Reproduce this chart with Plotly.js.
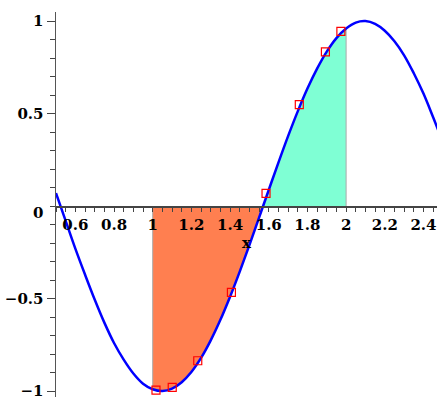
<!DOCTYPE html>
<html>
<head>
<meta charset="utf-8">
<script src="https://cdn.plot.ly/plotly-3.0.1.min.js"></script>
<style>
  html, body { margin: 0; padding: 0; background: #fff; }
  #plot { width: 437px; height: 399px; }
</style>
</head>
<body>
<div id="plot"></div>
<script>
// curve
const curveX = [0.5, 0.55, 0.6, 0.65, 0.7, 0.75, 0.8, 0.85, 0.9, 0.95,
  1.0, 1.05, 1.1, 1.15, 1.2, 1.25, 1.3, 1.35, 1.4, 1.45,
  1.5, 1.55, 1.6, 1.65, 1.7, 1.75, 1.8, 1.85, 1.9, 1.95,
  2.0, 2.05, 2.1, 2.15, 2.2, 2.25, 2.3, 2.35, 2.4, 2.45, 2.5];
const curveY = [0.07, -0.08, -0.23, -0.37, -0.505, -0.63, -0.74, -0.83, -0.905, -0.96,
  -0.99, -1.0, -0.987, -0.952, -0.897, -0.821, -0.726, -0.615, -0.49, -0.354,
  -0.211, -0.062, 0.087, 0.235, 0.378, 0.512, 0.635, 0.743, 0.835, 0.908,
  0.96, 0.992, 1.0, 0.985, 0.948, 0.891, 0.815, 0.718, 0.608, 0.48, 0.347];

// red sample squares
const sampleX = [1.017, 1.101, 1.233, 1.407, 1.586, 1.758, 1.893, 1.973];
const sampleY = [-0.995, -0.98, -0.836, -0.466, 0.069, 0.548, 0.834, 0.944];

// shaded regions: [1, zero crossing] and [zero crossing, 2]
const regionEdges = [1, 1.571, 2];
const regionColors = ['#FF7F50', '#7FFFD4'];

const xTicks = [0.6, 0.8, 1, 1.2, 1.4, 1.6, 1.8, 2, 2.2, 2.4];
const xTickText = ['0.6', '0.8', '1', '1.2', '1.4', '1.6', '1.8', '2', '2.2', '2.4'];
const yTicks = [-1, -0.5, 0.5, 1];
const yTickText = ['\u22121', '\u22120.5', '0.5', '1'];

const xRange = [0.5, 2.47];
const yRange = [-1.032, 1.049];

function regionPolygon(x0, x1) {
  const xs = [x0], ys = [0];
  for (let i = 0; i < curveX.length; i++) {
    if (curveX[i] >= x0 - 1e-9 && curveX[i] <= x1 + 1e-9) {
      xs.push(curveX[i]);
      ys.push(curveY[i]);
    }
  }
  xs.push(x1); ys.push(0);
  return { xs: xs, ys: ys };
}

const traces = [];
for (let k = 0; k < regionEdges.length - 1; k++) {
  const p = regionPolygon(regionEdges[k], regionEdges[k + 1]);
  traces.push({
    x: p.xs, y: p.ys,
    type: 'scatter', mode: 'lines',
    fill: 'toself', fillcolor: regionColors[k],
    line: { color: '#aaaaaa', width: 1 },
    hoverinfo: 'skip', showlegend: false
  });
}

traces.push({
  x: curveX, y: curveY,
  type: 'scatter', mode: 'lines',
  line: { color: '#0000FF', width: 2.5, shape: 'spline' },
  showlegend: false
});

traces.push({
  x: sampleX, y: sampleY,
  type: 'scatter', mode: 'markers',
  marker: { symbol: 'square-open', size: 8, color: '#FF0000', line: { width: 1.2 } },
  showlegend: false
});

const tickFont = { family: 'DejaVu Serif', size: 15, color: '#000', weight: 'bold' };

const layout = {
  width: 437, height: 399,
  margin: { l: 56, r: 0, t: 12, b: 2 },
  paper_bgcolor: '#fff', plot_bgcolor: '#fff',
  font: tickFont,
  xaxis: {
    range: xRange,
    anchor: 'free',
    position: -yRange[0] / (yRange[1] - yRange[0]),
    showgrid: false, zeroline: false,
    showline: true, linecolor: '#444', linewidth: 1.5,
    tickvals: xTicks, ticktext: xTickText,
    ticks: 'outside', ticklen: 4, tickcolor: '#444', tickwidth: 1,
    minor: { dtick: 0.05, tick0: 0.5, ticks: 'outside', ticklen: 4, tickcolor: '#444', tickwidth: 1 },
    tickfont: tickFont,
    ticklabeloverflow: 'allow',
    title: { text: 'x', font: tickFont, standoff: 0 }
  },
  yaxis: {
    range: yRange,
    showgrid: false, zeroline: false,
    showline: true, linecolor: '#555', linewidth: 1.5,
    tickvals: yTicks, ticktext: yTickText,
    ticks: 'outside', ticklen: 8, tickcolor: '#444', tickwidth: 1,
    minor: { dtick: 0.1, tick0: 0, ticks: 'outside', ticklen: 5, tickcolor: '#444', tickwidth: 1 },
    tickfont: tickFont,
    ticklabeloverflow: 'allow'
  },
  annotations: [{
    xref: 'paper', yref: 'y', x: 0, y: 0,
    xanchor: 'right', yanchor: 'middle',
    xshift: -11, yshift: -7,
    text: '0', showarrow: false, font: tickFont
  }]
};

Plotly.newPlot('plot', traces, layout, { displayModeBar: false, staticPlot: true });
</script>
</body>
</html>
